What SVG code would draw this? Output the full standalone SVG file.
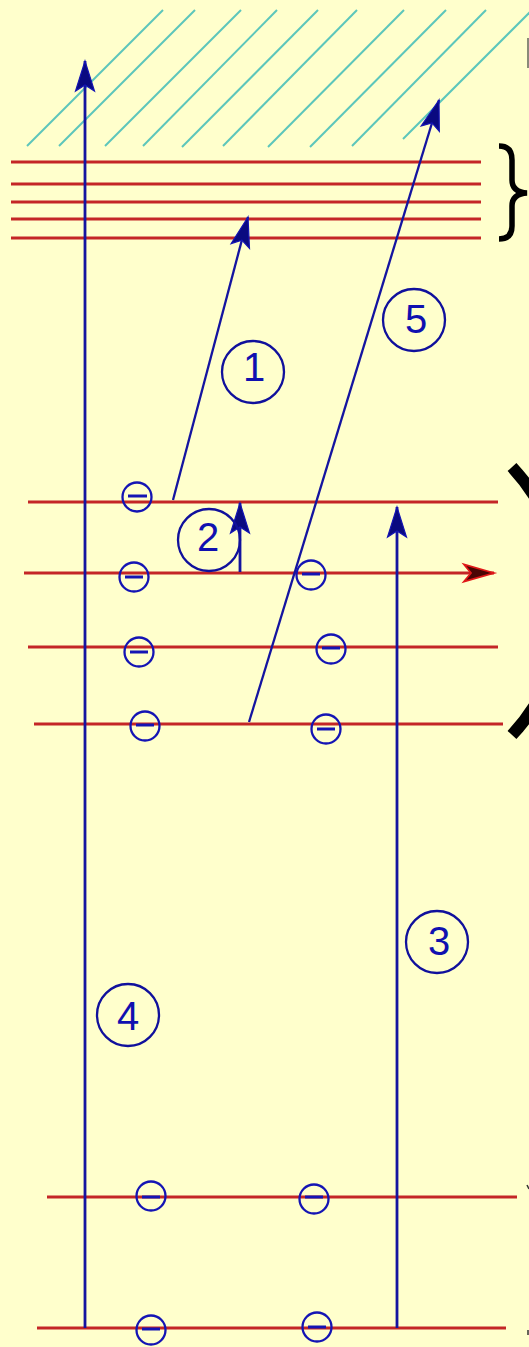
<svg xmlns="http://www.w3.org/2000/svg" width="529" height="1347" viewBox="0 0 529 1347">
<style>
.hatch{stroke:#5cc6bb;stroke-width:2;fill:none}
.lvl{stroke:#c42626;stroke-width:3;fill:none}
.arr{stroke:#1414a0;stroke-width:2.8;fill:none;marker-end:url(#ah)}
.arr2{stroke:#1414a0;stroke-width:2.3;fill:none;marker-end:url(#ah)}
.el circle{stroke:#1414b4;stroke-width:2.3;fill:none}
.el line{stroke:#1414b4;stroke-width:3}
.lab circle{stroke:#10109c;stroke-width:2.3;fill:none}
.lab text{font-family:"Liberation Sans",Arial,sans-serif;font-size:40px;fill:#1010b0;text-anchor:middle}
.brace{stroke:#000;fill:none}
</style>
<defs>
<marker id="ah" markerUnits="userSpaceOnUse" markerWidth="32" markerHeight="22" refX="30" refY="10" orient="auto" overflow="visible">
<path d="M30,10 L0,0.5 L6,10 L0,19.5 Z" fill="#0a0a80" stroke="#1414b4" stroke-width="1.2"/>
</marker>
<marker id="ahr" markerUnits="userSpaceOnUse" markerWidth="32" markerHeight="22" refX="30" refY="10" orient="auto" overflow="visible">
<path d="M30,10 L0,1.5 L7,10 L0,18.5 Z" fill="#4a0505" stroke="#e01818" stroke-width="1.8"/>
</marker>
</defs>
<rect width="529" height="1347" fill="#ffffcc"/>
<g id="conduction-band">
<line class="hatch" x1="27" y1="146" x2="163" y2="10"/>
<line class="hatch" x1="59" y1="146" x2="195" y2="10"/>
<line class="hatch" x1="105" y1="146" x2="241" y2="10"/>
<line class="hatch" x1="143" y1="146" x2="277" y2="10"/>
<line class="hatch" x1="182" y1="147" x2="318" y2="10"/>
<line class="hatch" x1="223" y1="146" x2="357" y2="10"/>
<line class="hatch" x1="268" y1="147" x2="404" y2="10"/>
<line class="hatch" x1="310" y1="147" x2="446" y2="10"/>
<line class="hatch" x1="352" y1="146" x2="486" y2="10"/>
<line class="hatch" x1="403" y1="139" x2="535" y2="7"/>
</g>
<g id="upper-levels">
<line class="lvl" x1="11" y1="162" x2="481" y2="162"/>
<line class="lvl" x1="11" y1="184" x2="481" y2="184"/>
<line class="lvl" x1="11" y1="202" x2="481" y2="202"/>
<line class="lvl" x1="11" y1="219" x2="481" y2="219"/>
<line class="lvl" x1="11" y1="238" x2="481" y2="238"/>
</g>
<g id="middle-levels">
<line class="lvl" x1="28" y1="502" x2="498" y2="502"/>
<line class="lvl" x1="24" y1="573" x2="494" y2="573" style="marker-end:url(#ahr)"/>
<line class="lvl" x1="28" y1="647" x2="498" y2="647"/>
<line class="lvl" x1="34" y1="724" x2="503" y2="724"/>
</g>
<g id="lower-levels">
<line class="lvl" x1="47" y1="1197" x2="517" y2="1197"/>
<line class="lvl" x1="37" y1="1328" x2="506" y2="1328"/>
</g>
<g id="braces">
<path class="brace" stroke-width="5.5" d="M499 146 Q512 146 512 160 L512 180 Q512 192 527 193 Q512 194 512 206 L512 226 Q512 239 499 239"/>
<path class="brace" stroke-width="12" d="M512 467 A197 197 0 0 1 512 735"/>
<rect x="527" y="38" width="2" height="30" fill="#8a8a78"/>
<line x1="527" y1="1185" x2="529" y2="1189" stroke="#333" stroke-width="1.5"/>
<line x1="528" y1="1330" x2="528" y2="1335" stroke="#333" stroke-width="1.5"/>
</g>
<g id="connectors">
<line class="arr" x1="85" y1="1328" x2="85" y2="61"/>
<line class="arr2" x1="173" y1="500" x2="248" y2="217"/>
<line class="arr" x1="240" y1="572" x2="240" y2="503"/>
<line class="arr" x1="397" y1="1328" x2="397" y2="507"/>
<line class="arr2" x1="249" y1="722" x2="439" y2="100"/>
</g>
<g id="electrons">
<g id="e1" class="el"><circle cx="137" cy="497" r="14.5"/><line x1="128" y1="496" x2="147" y2="496"/></g>
<g id="e2" class="el"><circle cx="134" cy="577" r="14.5"/><line x1="125" y1="577" x2="143" y2="577"/></g>
<g id="e3" class="el"><circle cx="311" cy="575" r="14.5"/><line x1="302" y1="574" x2="320" y2="574"/></g>
<g id="e4" class="el"><circle cx="139" cy="652" r="14.5"/><line x1="130" y1="652" x2="148" y2="652"/></g>
<g id="e5" class="el"><circle cx="331" cy="649" r="14.5"/><line x1="322" y1="648" x2="340" y2="648"/></g>
<g id="e6" class="el"><circle cx="145" cy="726" r="14.5"/><line x1="136" y1="725" x2="154" y2="725"/></g>
<g id="e7" class="el"><circle cx="326" cy="729" r="14.5"/><line x1="317" y1="729" x2="335" y2="729"/></g>
<g id="e8" class="el"><circle cx="151" cy="1196" r="14.5"/><line x1="142" y1="1197" x2="160" y2="1197"/></g>
<g id="e9" class="el"><circle cx="314" cy="1199" r="14.5"/><line x1="305" y1="1197" x2="323" y2="1197"/></g>
<g id="e10" class="el"><circle cx="151" cy="1330" r="14.5"/><line x1="142" y1="1329" x2="160" y2="1329"/></g>
<g id="e11" class="el"><circle cx="317" cy="1327" r="14.5"/><line x1="308" y1="1327" x2="326" y2="1327"/></g>
</g>
<g id="label-1" class="lab"><circle cx="253" cy="372" r="31"/><text x="254" y="381">1</text></g>
<g id="label-2" class="lab"><circle cx="209" cy="540" r="31"/><text x="208" y="551">2</text></g>
<g id="label-3" class="lab"><circle cx="437" cy="942" r="31"/><text x="439" y="955">3</text></g>
<g id="label-4" class="lab"><circle cx="128" cy="1015" r="31"/><text x="128" y="1030">4</text></g>
<g id="label-5" class="lab"><circle cx="414" cy="320" r="31"/><text x="416" y="333">5</text></g>
</svg>
